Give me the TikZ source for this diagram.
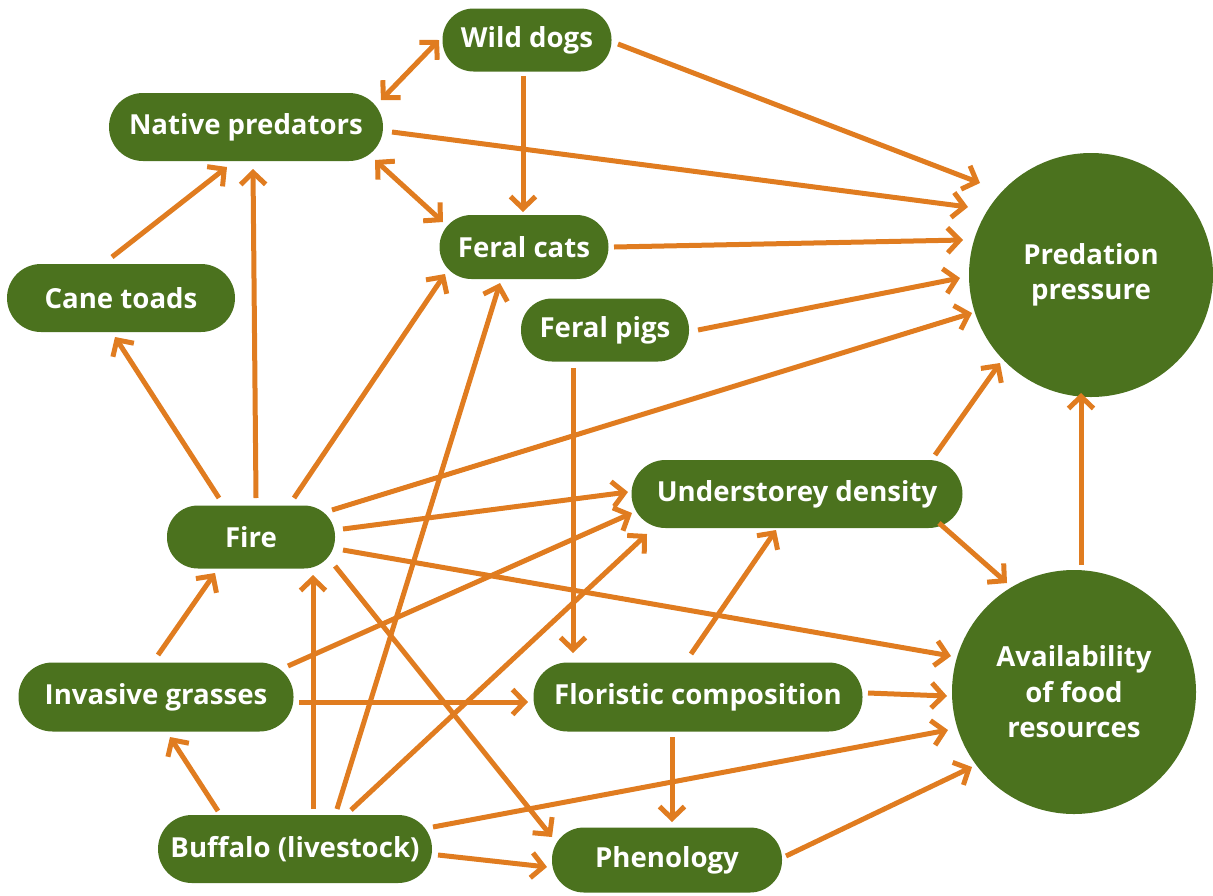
\documentclass[tikz,border=0pt]{standalone}
\usepackage{fontspec}
\setmainfont{Open Sans}
\usetikzlibrary{arrows.meta,calc}
\definecolor{leaf}{RGB}{75,114,30}
\definecolor{rust}{RGB}{224,124,32}
\tikzset{
  box/.style={fill=leaf,text=white,rounded corners=#1,inner sep=0pt,align=center,
    font=\fontsize{27.6}{35.5}\selectfont\bfseries},
  bigcirc/.style={circle,fill=leaf,text=white,inner sep=0pt,minimum size=244pt,align=center,
    font=\fontsize{27.6}{35.5}\selectfont\bfseries},
  arr/.style={draw=rust,line width=5pt,-{Straight Barb[length=12pt,width=25pt,line width=5pt]}},
  darr/.style={draw=rust,line width=5pt,{Straight Barb[length=12pt,width=25pt,line width=5pt]}-{Straight Barb[length=12pt,width=25pt,line width=5pt]}}
}
\begin{document}
\begin{tikzpicture}[x=1pt,y=-1pt]
\useasboundingbox (0,0) rectangle (1213,895);
% nodes
\node[box=31pt,minimum width=169pt,minimum height=63pt] (wd) at (527,40) {Wild dogs};
\node[box=34pt,minimum width=274pt,minimum height=68pt] (np) at (246,127) {Native predators};
\node[box=34pt,minimum width=228pt,minimum height=68pt] (ct) at (121,298) {Cane toads};
\node[box=32pt,minimum width=169pt,minimum height=64pt] (fc) at (524,247) {Feral cats};
\node[box=31pt,minimum width=168pt,minimum height=63pt] (fp) at (605,330) {Feral pigs};
\node[bigcirc] (pp) at (1091,275) {Predation\\pressure};
\node[box=34pt,minimum width=331pt,minimum height=68pt] (ud) at (797,494) {Understorey density};
\node[box=31pt,minimum width=168pt,minimum height=63pt] (fi) at (251,537) {Fire};
\node[bigcirc] (af) at (1074,692) {Availability\\of food\\resources};
\node[box=34pt,minimum width=275pt,minimum height=69pt] (ig) at (156,697) {Invasive grasses};
\node[box=34pt,minimum width=329pt,minimum height=69pt] (fl) at (698,697) {Floristic composition};
\node[box=34pt,minimum width=274pt,minimum height=68pt] (bu) at (295,849) {Buffalo (livestock)};
\node[box=32pt,minimum width=230pt,minimum height=65pt] (ph) at (667,860) {Phenology};
% connectors
\draw[darr] ($(wd)+(-88,0)$) -- ($(np)+(135,-27)$);
\draw[arr] ($(wd)+(91,4)$) -- ($(pp)+(-111,-92)$);
\draw[arr] ($(wd)+(-4,36)$) -- ($(fc)+(-1,-35)$);
\draw[arr] ($(np)+(146,5)$) -- ($(pp)+(-123,-68)$);
\draw[darr] ($(np)+(129,33)$) -- ($(fc)+(-81,-25)$);
\draw[arr] ($(ct)+(-9,-41)$) -- ($(np)+(-19,40)$);
\draw[arr] ($(fi)+(5,-39)$) -- ($(np)+(7,42)$);
\draw[arr] ($(fi)+(-32,-39)$) -- ($(ct)+(-6,39)$);
\draw[arr] ($(fi)+(43,-39)$) -- ($(fc)+(-79,27)$);
\draw[arr] ($(fc)+(90,0)$) -- ($(pp)+(-128,-35)$);
\draw[arr] ($(fp)+(93,0)$) -- ($(pp)+(-131,3)$);
\draw[arr] ($(fi)+(81,-27)$) -- ($(pp)+(-119,38)$);
\draw[arr] ($(fi)+(92,-8)$) -- ($(ud)+(-169,-2)$);
\draw[arr] ($(fi)+(92,13)$) -- ($(af)+(-123,-36)$);
\draw[arr] ($(fi)+(84,29)$) -- ($(ph)+(-115,-23)$);
\draw[arr] ($(fp)+(-32,38)$) -- ($(fl)+(-125,-44)$);
\draw[arr] ($(ud)+(138,-39)$) -- ($(pp)+(-91,88)$);
\draw[arr] ($(ud)+(142,29)$) -- ($(af)+(-67,-109)$);
\draw[arr] ($(af)+(7,-127)$) -- ($(pp)+(-10,118)$);
\draw[arr] ($(ig)+(2,-42)$) -- ($(fi)+(-36,36)$);
\draw[arr] ($(ig)+(132,-31)$) -- ($(ud)+(-165,19)$);
\draw[arr] ($(ig)+(143,5)$) -- ($(fl)+(-170,5)$);
\draw[arr] ($(fl)+(-7,-43)$) -- ($(ud)+(-21,36)$);
\draw[arr] ($(fl)+(170,-4)$) -- ($(af)+(-127,4)$);
\draw[arr] ($(fl)+(-26,40)$) -- ($(ph)+(5,-38)$);
\draw[arr] ($(bu)+(-77,-38)$) -- ($(ig)+(14,40)$);
\draw[arr] ($(bu)+(18,-40)$) -- ($(fi)+(62,38)$);
\draw[arr] ($(bu)+(42,-40)$) -- ($(fc)+(-24,36)$);
\draw[arr] ($(bu)+(56,-39)$) -- ($(ud)+(-150,40)$);
\draw[arr] ($(bu)+(138,-22)$) -- ($(af)+(-126,38)$);
\draw[arr] ($(bu)+(143,6)$) -- ($(ph)+(-120,7)$);
\draw[arr] ($(ph)+(119,-4)$) -- ($(af)+(-102,75)$);
\end{tikzpicture}
\end{document}
